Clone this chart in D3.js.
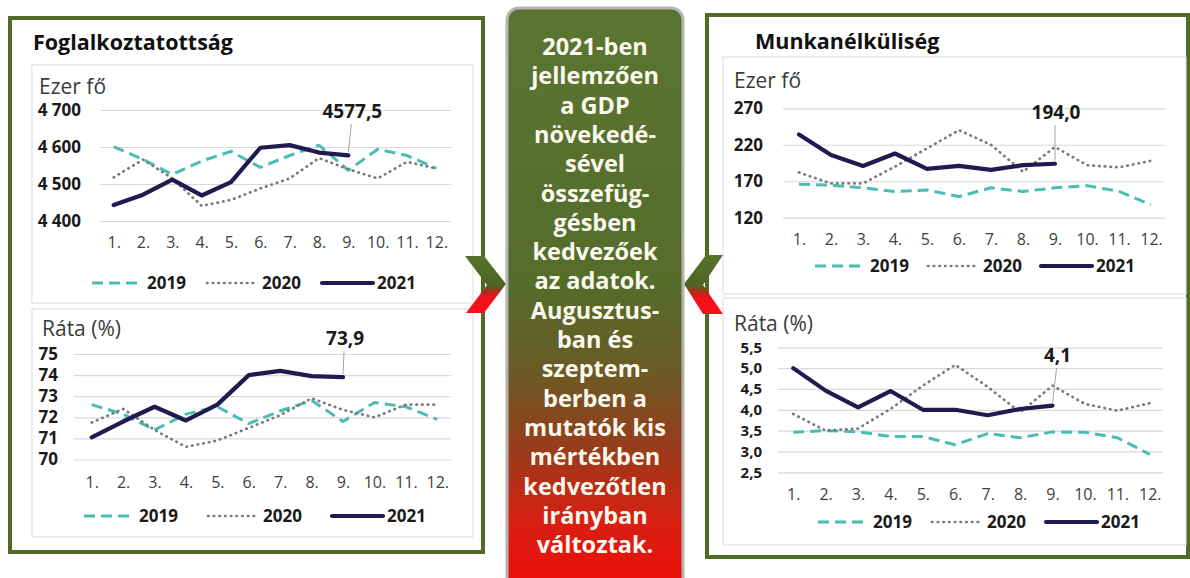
<!DOCTYPE html>
<html>
<head>
<meta charset="utf-8">
<script src="https://cdn.jsdelivr.net/npm/d3@7"></script>
<style>
  body { margin: 0; background: #fff; }
  svg { display: block; font-family: 'Open Sans', sans-serif; }
</style>
</head>
<body>
<svg id="chart" width="1190" height="578"></svg>
<script>
// honapok
var months = ["1.", "2.", "3.", "4.", "5.", "6.", "7.", "8.", "9.", "10.", "11.", "12."];
var years = ["2019", "2020", "2021"];

// foglalkoztatottak, ezer fo
var empLevel2019 = [4601, 4566, 4526, 4562, 4588, 4545, 4577, 4605, 4537, 4594, 4577, 4542];
var empLevel2020 = [4518, 4566, 4515, 4441, 4457, 4488, 4515, 4570, 4540, 4515, 4560, 4542];
var empLevel2021 = [4443, 4471, 4512, 4469, 4505, 4598, 4605, 4585, 4577.5];
var empLevelTicks = [4400, 4500, 4600, 4700];

// foglalkoztatasi rata, %
var empRate2019 = [72.6, 72.15, 71.4, 72.15, 72.5, 71.7, 72.3, 72.8, 71.8, 72.7, 72.5, 71.9];
var empRate2020 = [71.75, 72.4, 71.4, 70.6, 70.9, 71.5, 72.1, 72.9, 72.35, 72.0, 72.6, 72.6];
var empRate2021 = [71.05, 71.8, 72.5, 71.85, 72.6, 74.0, 74.2, 73.95, 73.9];
var empRateTicks = [70, 71, 72, 73, 74, 75];

// munkanelkuliek, ezer fo
var unempLevel2019 = [166, 164.5, 161, 156, 158, 149, 161, 156, 161, 164, 156, 137.5];
var unempLevel2020 = [182, 167, 167, 190, 215, 240, 220, 183, 217, 192, 189, 198];
var unempLevel2021 = [234, 206, 191, 208, 187, 191, 185.5, 192, 194.0];
var unempLevelTicks = [120, 170, 220, 270];

// munkanelkulisegi rata, %
var unempRate2019 = [3.46, 3.5, 3.47, 3.36, 3.36, 3.16, 3.43, 3.33, 3.47, 3.46, 3.33, 2.93];
var unempRate2020 = [3.9, 3.5, 3.55, 4.02, 4.58, 5.08, 4.55, 3.94, 4.58, 4.14, 3.98, 4.16];
var unempRate2021 = [5.0, 4.46, 4.06, 4.45, 4.0, 4.0, 3.87, 4.02, 4.1];
var unempRateTicks = [2.5, 3.0, 3.5, 4.0, 4.5, 5.0, 5.5];

var centerText = ["2021-ben", "jellemzően", "a GDP", "növekedé-", "sével", "összefüg-",
  "gésben", "kedvezőek", "az adatok.", "Augusztus-", "ban és", "szeptem-", "berben a",
  "mutatók kis", "mértékben", "kedvezőtlen", "irányban", "változtak."];

var green = "#4f6b24";
var styles = {
  "2019": {stroke: "#4bbcb3", width: 3, dash: "11 6", cap: "butt"},
  "2020": {stroke: "#7a7a7a", width: 2.7, dash: "0.5 5.2", cap: "round"},
  "2021": {stroke: "#1f1b50", width: 4.2, dash: null, cap: "round"}
};

var comma1 = v => v.toFixed(1).replace(".", ",");

var svg = d3.select("#chart");
var defs = svg.append("defs");

var g1 = defs.append("linearGradient").attr("id", "boxGrad").attr("x1", 0).attr("y1", 0).attr("x2", 0).attr("y2", 1);
[[0, "#5a7531"], [0.47, "#556c2b"], [0.62, "#6b5a25"], [0.75, "#9a3b1b"], [0.87, "#d81f12"], [1, "#f20a0a"]]
  .forEach(s => g1.append("stop").attr("offset", s[0]).attr("stop-color", s[1]));

var g2 = defs.append("linearGradient").attr("id", "arrowGrad").attr("x1", 0).attr("y1", 0).attr("x2", 0).attr("y2", 1);
[[0, "#56722b"], [0.52, "#4c6622"], [0.64, "#c0221a"], [0.76, "#f5101a"], [1, "#f5101a"]]
  .forEach(s => g2.append("stop").attr("offset", s[0]).attr("stop-color", s[1]));

// keretek
svg.append("rect").attr("x", 10).attr("y", 18).attr("width", 473).attr("height", 534)
  .attr("fill", "none").attr("stroke", green).attr("stroke-width", 4);
svg.append("rect").attr("x", 707).attr("y", 15).attr("width", 481).attr("height", 542)
  .attr("fill", "none").attr("stroke", green).attr("stroke-width", 4);

svg.append("text").attr("x", 33).attr("y", 50).text("Foglalkoztatottság")
  .style("font-size", "21.5px").style("font-weight", "bold").attr("fill", "#111");
svg.append("text").attr("x", 755).attr("y", 49).text("Munkanélküliség")
  .style("font-size", "21.5px").style("font-weight", "bold").attr("fill", "#111");

function drawChart(c, s19, s20, s21, ticks, fmt, unit) {
  var g = svg.append("g");
  g.append("rect").attr("x", c.panel[0]).attr("y", c.panel[1]).attr("width", c.panel[2]).attr("height", c.panel[3])
    .attr("fill", "#fff").attr("stroke", "#e2e2e2").attr("stroke-width", 1.2);

  g.append("text").attr("x", c.unitX).attr("y", c.unitY).text(unit)
    .style("font-size", "21px").attr("fill", "#3a3a3a");

  var x = d3.scalePoint().domain(months).range([c.xr0, c.xr1]).padding(0.5);
  var y = d3.scaleLinear().domain([ticks[0], ticks[ticks.length - 1]]).range([c.yBottom, c.yTop]);

  var ya = g.append("g").attr("transform", "translate(" + c.gx0 + ",0)")
    .call(d3.axisLeft(y).tickValues(ticks).tickFormat(fmt)
      .tickSizeInner(-(c.gx1 - c.gx0)).tickSizeOuter(0).tickPadding(c.gx0 - c.labelRight));
  ya.select(".domain").remove();
  ya.selectAll("line").attr("stroke", "#d9d9d9").attr("stroke-width", 1.2);
  ya.selectAll("text").style("font-size", c.tickFont + "px").style("font-weight", "bold")
    .style("font-family", "'Open Sans', sans-serif").attr("fill", "#1a1a1a");

  var xa = g.append("g").attr("transform", "translate(0," + (c.xBase - 11.4) + ")")
    .call(d3.axisBottom(x).tickSize(0).tickPadding(0));
  xa.select(".domain").remove();
  xa.selectAll("text").attr("dy", "0.71em").style("font-size", "16px")
    .style("font-family", "'Open Sans', sans-serif").attr("fill", "#404040");

  var line = d3.line().x((d, i) => x(months[i])).y(d => y(d));
  [[s19, "2019"], [s20, "2020"], [s21, "2021"]].forEach(function (s) {
    var st = styles[s[1]];
    g.append("path").datum(s[0]).attr("d", line).attr("fill", "none")
      .attr("stroke", st.stroke).attr("stroke-width", st.width)
      .attr("stroke-dasharray", st.dash).attr("stroke-linecap", st.cap).attr("stroke-linejoin", "round");
  });

  // felirat az utolso 2021-es ertekhez
  var li = s21.length - 1;
  var px = x(months[li]), py = y(s21[li]);
  var lx = px + c.calloutDx, ly = c.calloutY;
  g.append("line").attr("x1", lx - 1).attr("y1", ly + 6).attr("x2", px).attr("y2", py - 3)
    .attr("stroke", "#a6a6a6").attr("stroke-width", 1);
  g.append("text").attr("x", lx).attr("y", ly).attr("text-anchor", "middle").text(comma1(s21[li]))
    .style("font-size", "19px").style("font-weight", "bold").attr("fill", "#1a1a1a");

  // jelmagyarazat
  years.forEach(function (yr, i) {
    var st = styles[yr];
    var x0 = c.legX + i * c.legStep;
    g.append("line").attr("x1", x0).attr("x2", x0 + 51).attr("y1", c.legY).attr("y2", c.legY)
      .attr("stroke", st.stroke).attr("stroke-width", st.width)
      .attr("stroke-dasharray", st.dash).attr("stroke-linecap", st.cap);
    g.append("text").attr("x", x0 + 55).attr("y", c.legY + 6).text(yr)
      .style("font-size", "17px").style("font-weight", "bold").attr("fill", "#1a1a1a");
  });
}

var spaceFmt = v => d3.format(",")(v).replace(",", " ");

drawChart({panel: [32, 65, 441, 238], unitX: 39, unitY: 94, xr0: 99, xr1: 451, gx0: 100, gx1: 451,
  yTop: 110, yBottom: 221, labelRight: 81, tickFont: 17, xBase: 248, calloutDx: 4, calloutY: 118,
  legX: 92, legStep: 115, legY: 283}, empLevel2019, empLevel2020, empLevel2021, empLevelTicks, spaceFmt, "Ezer fő");

drawChart({panel: [32, 309, 441, 228], unitX: 42, unitY: 336, xr0: 76, xr1: 453, gx0: 74, gx1: 451,
  yTop: 354, yBottom: 459.5, labelRight: 58, tickFont: 17, xBase: 488, calloutDx: 2, calloutY: 345,
  legX: 84, legStep: 124, legY: 516}, empRate2019, empRate2020, empRate2021, empRateTicks, d3.format("d"), "Ráta (%)");

drawChart({panel: [723, 57, 463, 237], unitX: 734, unitY: 88, xr0: 783, xr1: 1167, gx0: 783, gx1: 1165,
  yTop: 108.3, yBottom: 217.7, labelRight: 763, tickFont: 17, xBase: 245, calloutDx: 1, calloutY: 119,
  legX: 815, legStep: 113, legY: 266}, unempLevel2019, unempLevel2020, unempLevel2021, unempLevelTicks, d3.format("d"), "Ezer fő");

drawChart({panel: [723, 298, 463, 247], unitX: 734, unitY: 331, xr0: 777, xr1: 1166, gx0: 778, gx1: 1163,
  yTop: 347.3, yBottom: 472.3, labelRight: 762, tickFont: 15, xBase: 500, calloutDx: 5, calloutY: 362,
  legX: 818, legStep: 114, legY: 522}, unempRate2019, unempRate2020, unempRate2021, unempRateTicks, comma1, "Ráta (%)");

// nyilak
svg.append("polygon").attr("points", "465,256 484,256 506,284 484,313 466,313 487,285")
  .attr("fill", "url(#arrowGrad)");
svg.append("polygon").attr("points", "723,255 706,255 684,284 703,314 723,314 703,285")
  .attr("fill", "url(#arrowGrad)");

// kozepso doboz
svg.append("rect").attr("x", 507).attr("y", 8).attr("width", 176).attr("height", 590).attr("rx", 12)
  .attr("fill", "url(#boxGrad)").attr("stroke", "#b4b4b4").attr("stroke-width", 3);
svg.append("g").selectAll("text").data(centerText).enter().append("text")
  .attr("x", 595).attr("y", (d, i) => 55 + i * 29.3).attr("text-anchor", "middle").text(d => d)
  .style("font-size", "23.5px").style("font-weight", "bold").attr("fill", "#fbf9ee");
</script>
</body>
</html>
